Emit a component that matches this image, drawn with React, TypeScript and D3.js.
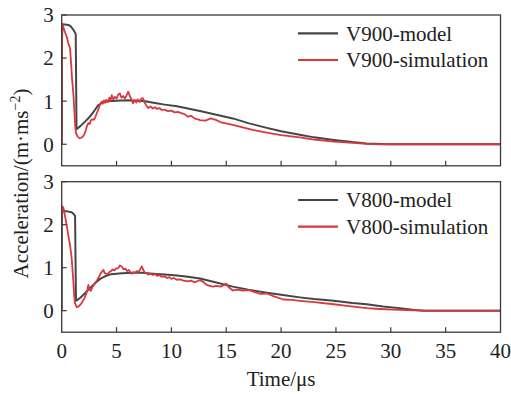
import React from "react";
import * as d3 from "d3";

type P = [number, number];

const xTicks = [0, 5, 10, 15, 20, 25, 30, 35, 40];
const yTicks = [0, 1, 2, 3];

const v900Model: P[] = [[0,0],[0.01,2.78],[0.3,2.78],[0.6,2.77],[0.8,2.74],[1.0,2.68],[1.2,2.6],[1.28,2.55],[1.35,0.35],[1.7,0.42],[2.1,0.52],[2.5,0.62],[2.9,0.75],[3.3,0.9],[3.7,0.97],[4.2,1.0],[5,1.01],[6,1.02],[7,1.01],[7.6,1.0],[8.5,0.96],[9.4,0.92],[10.5,0.88],[11.5,0.83],[12.6,0.77],[14,0.69],[15.6,0.6],[17,0.49],[18.7,0.38],[20,0.3],[21.7,0.22],[23,0.16],[24.8,0.1],[26.5,0.05],[27.8,0.02],[29.8,0],[40,0]];

const v900Sim: P[] = [[0,0],[0.02,2.2],[0.08,2.8],[0.15,2.72],[0.3,2.6],[0.45,2.5],[0.6,2.35],[0.76,2.23],[0.85,1.9],[0.95,1.5],[1.06,1.18],[1.15,0.8],[1.22,0.45],[1.3,0.26],[1.45,0.18],[1.6,0.14],[1.75,0.15],[1.9,0.17],[2.05,0.22],[2.2,0.33],[2.3,0.42],[2.43,0.49],[2.55,0.47],[2.65,0.55],[2.8,0.58],[2.95,0.57],[3.05,0.62],[3.2,0.72],[3.35,0.82],[3.5,0.92],[3.65,0.99],[3.75,0.94],[3.85,1.02],[3.95,0.96],[4.05,1.03],[4.2,0.98],[4.35,1.08],[4.45,1.0],[4.56,1.14],[4.7,1.04],[4.85,1.1],[5.0,1.06],[5.15,1.15],[5.3,1.18],[5.45,1.08],[5.6,1.12],[5.75,1.06],[5.9,1.13],[6.07,1.22],[6.2,1.12],[6.35,1.05],[6.5,0.95],[6.65,1.02],[6.8,0.97],[6.95,1.04],[7.1,0.98],[7.25,1.06],[7.4,1.07],[7.55,0.98],[7.7,0.9],[7.9,0.84],[8.1,0.88],[8.3,0.83],[8.5,0.86],[8.7,0.82],[8.9,0.84],[9.1,0.8],[9.4,0.8],[9.7,0.77],[10.0,0.78],[10.3,0.74],[10.6,0.75],[10.9,0.72],[11.2,0.7],[11.5,0.64],[11.8,0.66],[12.1,0.6],[12.4,0.58],[12.6,0.56],[13.1,0.55],[13.6,0.6],[14.1,0.56],[14.6,0.5],[15.1,0.48],[15.6,0.45],[16.5,0.39],[17.5,0.33],[18.7,0.27],[20,0.21],[21.7,0.16],[23,0.11],[24.8,0.06],[26.5,0.03],[27.8,0.01],[29,0],[40,0]];

const v800Model: P[] = [[0,0],[0.01,2.31],[0.5,2.31],[0.9,2.29],[1.1,2.25],[1.22,2.2],[1.3,0.23],[1.7,0.3],[2.1,0.4],[2.43,0.49],[3.0,0.63],[3.5,0.74],[3.95,0.8],[4.5,0.85],[5.5,0.87],[6.5,0.88],[7.3,0.88],[8.3,0.86],[9.4,0.84],[10.5,0.82],[11.5,0.79],[12.6,0.75],[14,0.66],[15.6,0.56],[17,0.49],[18.7,0.42],[20,0.37],[21.7,0.31],[23,0.27],[24.8,0.23],[26.5,0.18],[27.8,0.15],[29.3,0.1],[30.8,0.06],[32,0.02],[33,0],[40,0]];

const v800Sim: P[] = [[0,2.0],[0.05,2.43],[0.15,2.4],[0.3,2.2],[0.45,2.0],[0.6,1.75],[0.76,1.53],[0.91,1.22],[1.0,0.9],[1.06,0.68],[1.13,0.4],[1.2,0.18],[1.37,0.08],[1.55,0.1],[1.7,0.14],[1.82,0.18],[1.95,0.24],[2.1,0.3],[2.25,0.4],[2.35,0.5],[2.43,0.6],[2.52,0.5],[2.65,0.46],[2.8,0.55],[2.95,0.6],[3.1,0.66],[3.2,0.7],[3.34,0.76],[3.5,0.84],[3.65,0.9],[3.8,0.95],[3.9,0.88],[4.05,0.86],[4.2,0.85],[4.35,0.9],[4.5,0.92],[4.65,0.96],[4.8,0.94],[4.95,0.98],[5.16,0.99],[5.3,1.05],[5.5,1.02],[5.65,0.96],[5.8,0.98],[5.95,0.92],[6.1,0.95],[6.25,0.9],[6.4,0.86],[6.55,0.9],[6.7,0.88],[6.85,0.92],[7.0,0.9],[7.15,0.96],[7.3,1.03],[7.45,0.94],[7.6,0.88],[7.75,0.87],[7.9,0.84],[8.1,0.86],[8.3,0.83],[8.5,0.85],[8.7,0.81],[8.9,0.83],[9.1,0.79],[9.4,0.8],[9.6,0.76],[9.8,0.78],[10.0,0.74],[10.2,0.76],[10.5,0.72],[10.8,0.73],[11.1,0.7],[11.5,0.68],[11.8,0.7],[12.1,0.66],[12.4,0.69],[12.6,0.71],[12.9,0.67],[13.2,0.6],[13.5,0.58],[13.8,0.56],[14.1,0.58],[14.5,0.56],[14.8,0.6],[15.0,0.63],[15.2,0.55],[15.6,0.47],[16,0.49],[16.5,0.47],[17.1,0.48],[17.6,0.43],[18.1,0.39],[18.7,0.4],[19.3,0.34],[20.2,0.26],[21,0.25],[21.7,0.23],[23,0.2],[24.8,0.15],[26,0.11],[27.8,0.06],[29,0.04],[30.8,0.02],[32,0.01],[33,0],[40,0]];

const panels = [
  { model: v900Model, sim: v900Sim, modelLabel: "V900-model", simLabel: "V900-simulation", top: 15, bottom: 165.8 },
  { model: v800Model, sim: v800Sim, modelLabel: "V800-model", simLabel: "V800-simulation", top: 181.7, bottom: 332.2 },
];

const LEFT = 61.7;
const RIGHT = 500.5;
const MODEL_COLOR = "#454545";
const SIM_COLOR = "#d8393e";
const AXIS_COLOR = "#3a3a3a";
const FONT = "Liberation Serif, Times New Roman, DejaVu Serif, serif";
const FS = 21;

export default function App() {
  const x = d3.scaleLinear().domain([0, 40]).range([LEFT, RIGHT]);
  return (
    <svg width={511} height={394} style={{ position: "absolute", left: 0, top: 0, background: "#fff", fontFamily: FONT }}>
      {panels.map((p, i) => {
        const y = d3.scaleLinear().domain([-0.5, 3]).range([p.bottom, p.top]);
        const line = d3.line<P>().x((d) => x(d[0])).y((d) => y(d[1]));
        const cid = `clip${i}`;
        return (
          <g key={i}>
            <defs>
              <clipPath id={cid}>
                <rect x={LEFT} y={p.top} width={RIGHT - LEFT} height={p.bottom - p.top} />
              </clipPath>
            </defs>
            <g clipPath={`url(#${cid})`}>
              <path d={line(p.model) || ""} fill="none" stroke={MODEL_COLOR} strokeWidth={2} strokeLinejoin="round" />
              <path d={line(p.sim) || ""} fill="none" stroke={SIM_COLOR} strokeWidth={1.8} strokeLinejoin="round" />
            </g>
            <rect x={LEFT} y={p.top} width={RIGHT - LEFT} height={p.bottom - p.top} fill="none" stroke={AXIS_COLOR} strokeWidth={1.3} />
            {xTicks.slice(1, -1).map((t) => (
              <line key={t} x1={x(t)} x2={x(t)} y1={p.bottom} y2={p.bottom - 5} stroke={AXIS_COLOR} strokeWidth={1.2} />
            ))}
            {yTicks.map((t) => (
              <g key={t}>
                <line x1={LEFT} x2={LEFT + 5} y1={y(t)} y2={y(t)} stroke={AXIS_COLOR} strokeWidth={1.2} />
                <text x={LEFT - 8} y={y(t)} dy="0.35em" textAnchor="end" fontSize={FS} fill="#222">{t}</text>
              </g>
            ))}
            <line x1={298} x2={338} y1={p.top + 18.3} y2={p.top + 18.3} stroke={MODEL_COLOR} strokeWidth={2.2} />
            <text x={346} y={p.top + 18.3} dy="0.35em" fontSize={FS} fill="#222">{p.modelLabel}</text>
            <line x1={298} x2={338} y1={p.top + 45} y2={p.top + 45} stroke={SIM_COLOR} strokeWidth={2.2} />
            <text x={346} y={p.top + 45} dy="0.35em" fontSize={FS} fill="#222">{p.simLabel}</text>
          </g>
        );
      })}
      {xTicks.map((t) => (
        <text key={t} x={x(t)} y={358} textAnchor="middle" fontSize={FS} fill="#222">{t}</text>
      ))}
      <text x={(LEFT + RIGHT) / 2} y={386} textAnchor="middle" fontSize={FS} fill="#222">Time/μs</text>
      <text transform="translate(28,183.5) rotate(-90)" textAnchor="middle" fontSize={FS} fill="#222">
        Acceleration/(m·ms<tspan dy={-8} fontSize={14}>−2</tspan><tspan dy={8}>)</tspan>
      </text>
    </svg>
  );
}
